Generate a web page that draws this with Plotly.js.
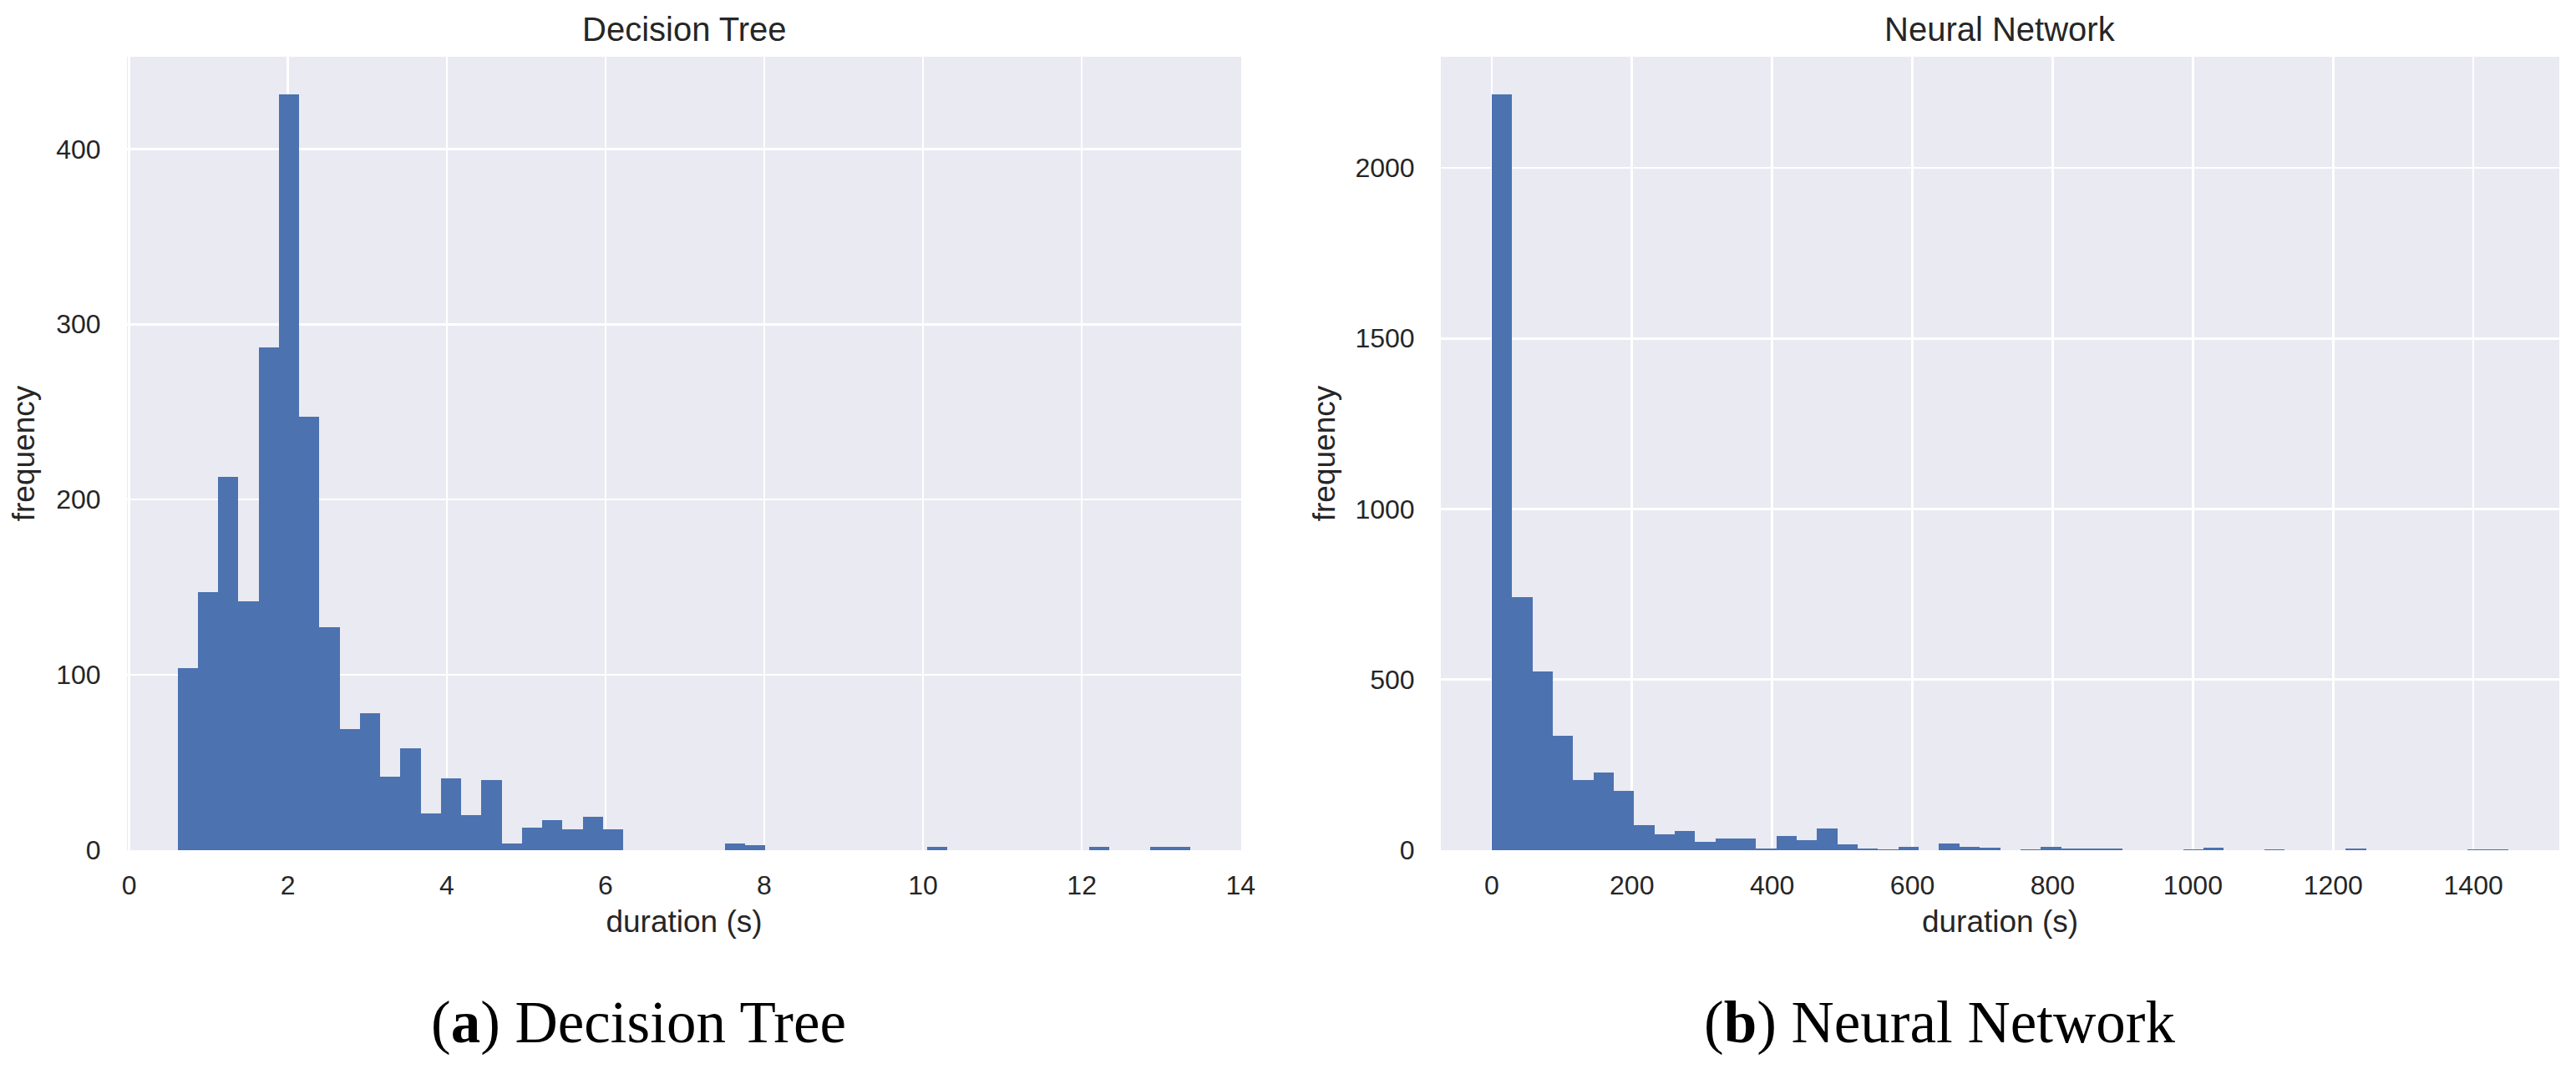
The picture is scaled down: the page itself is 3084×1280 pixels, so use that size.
<!DOCTYPE html>
<html>
<head>
<meta charset="utf-8">
<script src="https://cdn.plot.ly/plotly-3.0.1.min.js"></script>
<style>html,body{margin:0;padding:0;background:#fff;}#chart{width:3084px;height:1280px;}</style>
</head>
<body>
<div id="chart"></div>
<script>
// ---- Data (50-bin histograms) ----
const dtBinStart = 0.61;      // seconds, left edge of first bin
const dtBinWidth = 0.2552;    // seconds
const dtCounts = [104,147,213,142,287,431,247,127,69,78,
                  42,58,21,41,20,40,4,13,17,12,
                  19,12,0,0,0,0,0,4,3,0,
                  0,0,0,0,0,0,0,2,0,0,
                  0,0,0,0,0,2,0,0,2,2];

const nnBinStart = 0;         // seconds
const nnBinWidth = 29.0;      // seconds
const nnCounts = [2215,741,525,335,205,227,173,73,46,56,
                  24,34,34,4,41,29,63,16,4,2,
                  11,0,19,9,7,0,2,11,4,4,
                  4,0,0,0,2,7,0,0,2,0,
                  0,0,4,0,0,0,0,0,2,2];

const dtTicks = [0,2,4,6,8,10,12,14];
const nnTicks = [0,200,400,600,800,1000,1200,1400];
const dtYTicks = [0,100,200,300,400];
const nnYTicks = [0,500,1000,1500,2000];

const titles = ['Decision Tree','Neural Network'];
const captions = ['(<b>a</b>) Decision Tree','(<b>b</b>) Neural Network'];
const xLabel = 'duration (s)';
const yLabel = 'frequency';

// ---- Build traces ----
function centers(start, width, n){ const c=[]; for(let i=0;i<n;i++) c.push(start + width*(i+0.5)); return c; }

const BAR = '#4C72B0';
const TXT = '#262626';
const FONT = 'Liberation Sans, Arial, sans-serif';

const traces = [
  {type:'bar', x:centers(dtBinStart,dtBinWidth,dtCounts.length), y:dtCounts, width:dtBinWidth,
   marker:{color:BAR, line:{width:0}}, xaxis:'x', yaxis:'y', hoverinfo:'x+y', showlegend:false},
  {type:'bar', x:centers(nnBinStart,nnBinWidth,nnCounts.length), y:nnCounts, width:nnBinWidth,
   marker:{color:BAR, line:{width:0}}, xaxis:'x2', yaxis:'y2', hoverinfo:'x+y', showlegend:false}
];

function span(arr, w, start){ return [start, start + w*arr.length]; }
const dtSpan = span(dtCounts, dtBinWidth, dtBinStart);
const nnSpan = span(nnCounts, nnBinWidth, nnBinStart);
function padRange(s){ const d=(s[1]-s[0])*0.05; return [s[0]-d, s[1]+d]; }

const W = 3084, H = 1280;
const axBase = {
  showgrid:true, gridcolor:'#ffffff', gridwidth:2.6, zeroline:false, showline:false,
  ticks:'outside', tickcolor:'rgba(0,0,0,0)',
  tickfont:{family:FONT, size:32, color:TXT}, automargin:false, fixedrange:true
};
const yTop = 1 - 68/H, yBot = 1 - 1018/H;

const layout = {
  width:W, height:H, margin:{l:0,r:0,t:0,b:0},
  paper_bgcolor:'#ffffff', plot_bgcolor:'#EAEAF2',
  bargap:0, showlegend:false,
  xaxis: Object.assign({}, axBase, {domain:[152/W, 1486/W], anchor:'y', range:padRange(dtSpan),
    tickvals:dtTicks, ticklen:14,
    title:{text:xLabel, font:{family:FONT, size:37, color:TXT}, standoff:12}}),
  yaxis: Object.assign({}, axBase, {domain:[yBot, yTop], anchor:'x', range:[0, Math.max(...dtCounts)*1.05],
    tickvals:dtYTicks, ticklen:24,
    title:{text:yLabel, font:{family:FONT, size:37, color:TXT}, standoff:14}}),
  xaxis2: Object.assign({}, axBase, {domain:[1725/W, 3064/W], anchor:'y2', range:padRange(nnSpan),
    tickvals:nnTicks, ticklen:14,
    title:{text:xLabel, font:{family:FONT, size:37, color:TXT}, standoff:12}}),
  yaxis2: Object.assign({}, axBase, {domain:[yBot, yTop], anchor:'x2', range:[0, Math.max(...nnCounts)*1.05],
    tickvals:nnYTicks, ticklen:24,
    title:{text:yLabel, font:{family:FONT, size:37, color:TXT}, standoff:12}}),
  annotations:[
    {text:titles[0], xref:'paper', yref:'paper', x:819/W, y:1-34.5/H, xanchor:'center', yanchor:'middle',
     showarrow:false, font:{family:FONT, size:40, color:TXT}},
    {text:titles[1], xref:'paper', yref:'paper', x:2394.5/W, y:1-34.5/H, xanchor:'center', yanchor:'middle',
     showarrow:false, font:{family:FONT, size:40, color:TXT}},
    {text:captions[0], xref:'paper', yref:'paper', x:764/W, y:1-1224/H, xanchor:'center', yanchor:'middle',
     showarrow:false, font:{family:'Liberation Serif, Times New Roman, serif', size:71, color:'#000000'}},
    {text:captions[1], xref:'paper', yref:'paper', x:2321.5/W, y:1-1224/H, xanchor:'center', yanchor:'middle',
     showarrow:false, font:{family:'Liberation Serif, Times New Roman, serif', size:71, color:'#000000'}}
  ]
};

Plotly.newPlot('chart', traces, layout, {staticPlot:true, displayModeBar:false});
</script>
</body>
</html>
